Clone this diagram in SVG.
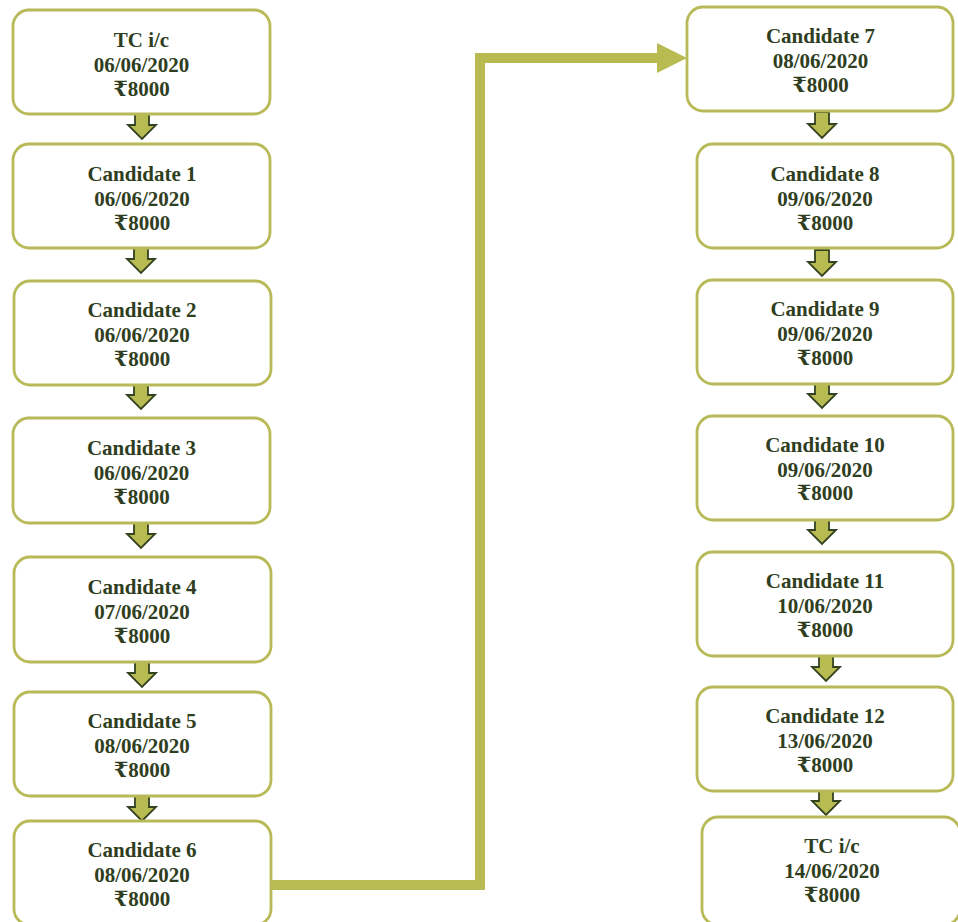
<svg xmlns="http://www.w3.org/2000/svg" width="958" height="922" viewBox="0 0 958 922">
<style>
.box{fill:#ffffff;stroke:#b8ba58;stroke-width:2.8}
.t{font-family:"Liberation Serif","Times New Roman","DejaVu Serif",serif;font-weight:bold;font-size:21px;fill:#2f3e20;text-anchor:middle}
.da{fill:#b8ba52;stroke:#34431f;stroke-width:1.8;stroke-linejoin:miter}
.conn{fill:none;stroke:#b8ba52;stroke-width:10}
.head{fill:#b8ba52}
</style>
<defs>
<polygon id="down" class="da" points="-7,0 7,0 7,12 14,12 0,26 -14,12 -7,12"/>
</defs>
<rect width="958" height="922" fill="#ffffff"/>

<g id="connectors">
<polyline class="conn" points="271,885 480,885 480,58 660,58"/>
<polygon class="head" points="657,43 687,58 657,73"/>
<use href="#down" x="142" y="113"/>
<use href="#down" x="141" y="247"/>
<use href="#down" x="141" y="383"/>
<use href="#down" x="141" y="522"/>
<use href="#down" x="142" y="661"/>
<use href="#down" x="142" y="795"/>
<use href="#down" x="822" y="112"/>
<use href="#down" x="822" y="250"/>
<use href="#down" x="822" y="382"/>
<use href="#down" x="822" y="518"/>
<use href="#down" x="826" y="655"/>
<use href="#down" x="826" y="789"/>
</g>

<g id="n0"><rect class="box" x="13" y="10" width="257" height="104" rx="16"/>
<text class="t" x="141.5" y="47">TC i/c</text><text class="t" x="141.5" y="71.5">06/06/2020</text><text class="t" x="141.5" y="96">₹8000</text></g>
<g id="n1"><rect class="box" x="13" y="144" width="257" height="104" rx="16"/>
<text class="t" x="142" y="181">Candidate 1</text><text class="t" x="142" y="205.5">06/06/2020</text><text class="t" x="142" y="230">₹8000</text></g>
<g id="n2"><rect class="box" x="14" y="281" width="257" height="104" rx="16"/>
<text class="t" x="142" y="317">Candidate 2</text><text class="t" x="142" y="341.5">06/06/2020</text><text class="t" x="142" y="366">₹8000</text></g>
<g id="n3"><rect class="box" x="13" y="418" width="257" height="105" rx="16"/>
<text class="t" x="141.5" y="455">Candidate 3</text><text class="t" x="141.5" y="479.5">06/06/2020</text><text class="t" x="141.5" y="504">₹8000</text></g>
<g id="n4"><rect class="box" x="14" y="557" width="257" height="105" rx="16"/>
<text class="t" x="142" y="594">Candidate 4</text><text class="t" x="142" y="618.5">07/06/2020</text><text class="t" x="142" y="643">₹8000</text></g>
<g id="n5"><rect class="box" x="14" y="692" width="257" height="104" rx="16"/>
<text class="t" x="142" y="728">Candidate 5</text><text class="t" x="142" y="752.5">08/06/2020</text><text class="t" x="142" y="777">₹8000</text></g>
<g id="n6"><rect class="box" x="14" y="821" width="257" height="104" rx="16"/>
<text class="t" x="142" y="857">Candidate 6</text><text class="t" x="142" y="881.5">08/06/2020</text><text class="t" x="142" y="906">₹8000</text></g>

<g id="n7"><rect class="box" x="687" y="7" width="266" height="104" rx="16"/>
<text class="t" x="820.5" y="43">Candidate 7</text><text class="t" x="820.5" y="67.5">08/06/2020</text><text class="t" x="820.5" y="92">₹8000</text></g>
<g id="n8"><rect class="box" x="697" y="144" width="256" height="104" rx="16"/>
<text class="t" x="825" y="181">Candidate 8</text><text class="t" x="825" y="205.5">09/06/2020</text><text class="t" x="825" y="230">₹8000</text></g>
<g id="n9"><rect class="box" x="697" y="280" width="256" height="104" rx="16"/>
<text class="t" x="825" y="316">Candidate 9</text><text class="t" x="825" y="340.5">09/06/2020</text><text class="t" x="825" y="365">₹8000</text></g>
<g id="n10"><rect class="box" x="697" y="416" width="256" height="104" rx="16"/>
<text class="t" x="825" y="452">Candidate 10</text><text class="t" x="825" y="476.5">09/06/2020</text><text class="t" x="825" y="500">₹8000</text></g>
<g id="n11"><rect class="box" x="697" y="552" width="256" height="104" rx="16"/>
<text class="t" x="825" y="588">Candidate 11</text><text class="t" x="825" y="612.5">10/06/2020</text><text class="t" x="825" y="637">₹8000</text></g>
<g id="n12"><rect class="box" x="697" y="687" width="256" height="104" rx="16"/>
<text class="t" x="825" y="723">Candidate 12</text><text class="t" x="825" y="747.5">13/06/2020</text><text class="t" x="825" y="772">₹8000</text></g>
<g id="n13"><rect class="box" x="702" y="817" width="258" height="108" rx="16"/>
<text class="t" x="832" y="853">TC i/c</text><text class="t" x="832" y="877.5">14/06/2020</text><text class="t" x="832" y="902">₹8000</text></g>
</svg>
